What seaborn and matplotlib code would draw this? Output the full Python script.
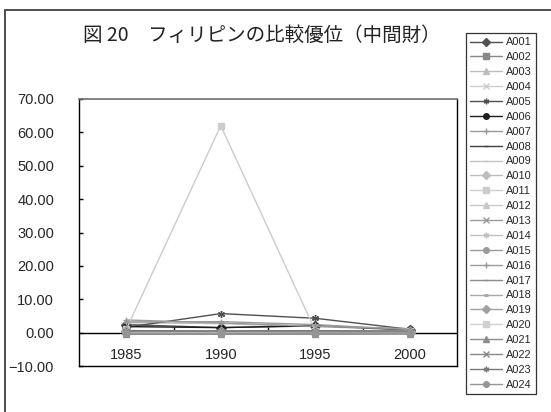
import matplotlib
matplotlib.use("Agg")
import matplotlib.pyplot as plt
from matplotlib.patches import Rectangle
import numpy as np
import pandas as pd
import seaborn as sns

# Survey years (categorical x axis)
years = ["1985", "1990", "1995", "2000"]

# Industry codes of the intermediate-goods series
codes = ["A001", "A002", "A003", "A004", "A005", "A006", "A007", "A008",
         "A009", "A010", "A011", "A012", "A013", "A014", "A015", "A016",
         "A017", "A018", "A019", "A020", "A021", "A022", "A023", "A024"]

# Revealed comparative advantage index per year, one value per code
rca_1985 = [2.4, 0.6, 3.0, 0.2, 1.6, 1.8, 3.8, 0.3,
            0.1, 0.4, 1.0, 0.3, 0.2, 0.5, 0.0, 3.2,
            -0.3, 0.2, 0.4, 0.1, -0.5, 0.3, 0.6, -0.2]
rca_1990 = [1.5, 0.5, 2.7, 0.2, 5.7, 1.5, 2.9, 0.2,
            0.1, 0.3, 62.0, 0.4, 0.3, 0.6, 0.1, 3.3,
            -0.3, 0.2, 0.3, 0.1, -0.5, 0.3, 0.5, -0.2]
rca_1995 = [2.0, 0.4, 1.8, 0.1, 4.3, 2.1, 1.9, 0.3,
            0.1, 0.3, 0.6, 0.3, 0.2, 0.5, 0.0, 2.4,
            -0.3, 0.2, 0.3, 0.1, -0.5, 0.2, 0.6, -0.2]
rca_2000 = [0.8, 0.4, 0.9, 0.1, 1.0, 0.9, 1.2, 0.3,
            0.1, 0.3, 0.5, 0.3, 0.2, 0.4, 0.0, 0.9,
            -0.2, 0.2, 0.3, 0.1, -0.4, 0.2, 0.5, -0.2]

# Line colour and marker for each code
colors = ["#505050", "#888888", "#bdbdbd", "#cccccc", "#505050", "#1e1e1e",
          "#9a9a9a", "#404040", "#c2c2c2", "#bdbdbd", "#cccccc", "#c8c8c8",
          "#9a9a9a", "#c0c0c0", "#9a9a9a", "#9a9a9a", "#8c8c8c", "#a8a8a8",
          "#a0a0a0", "#d0d0d0", "#8c8c8c", "#888888", "#7a7a7a", "#959595"]
markers = ["D", "s", "^", "x", (6, 2, 0), "o", "+", "_",
           "_", "D", "s", "^", "x", (6, 2, 0), "o", "+",
           "_", "_", "D", "s", "^", "x", (6, 2, 0), "o"]

df = pd.DataFrame({
    "code": np.repeat(codes, len(years)),
    "year": years * len(codes),
    "rca": np.column_stack([rca_1985, rca_1990, rca_1995, rca_2000]).ravel(),
})
df["pos"] = df["year"].map({y: i for i, y in enumerate(years)})

sns.set_theme(style="white")
plt.rcParams["font.family"] = ["Liberation Sans", "Noto Sans CJK JP", "DejaVu Sans"]

fig = plt.figure(figsize=(5.51, 4.12), dpi=100)
ax = fig.add_axes([79 / 551, 1 - 366 / 412, 378 / 551, 267 / 412])

for code, col, mk in zip(codes, colors, markers):
    sub = df[df["code"] == code]
    thick = code == "A018"
    sns.lineplot(data=sub, x="pos", y="rca", ax=ax, color=col, marker=mk,
                 markersize=5 if mk != "_" else 4,
                 markeredgecolor=col, markerfacecolor=col,
                 markeredgewidth=2.2 if thick else 1.0,
                 linewidth=1.0, label=code, zorder=3)

ax.set_xlim(-0.5, 3.5)
ax.set_ylim(-10, 70)
ax.set_yticks(np.arange(-10, 71, 10))
ax.set_yticklabels([f"{v:.2f}".replace("-", "\u2212") for v in np.arange(-10, 71, 10)],
                   fontsize=10.5)
ax.tick_params(axis="y", direction="in", length=3, width=1, color="black",
               pad=18, left=True)
ax.set_xticks(range(len(years)), labels=years, fontsize=10.5)
ax.tick_params(axis="x", length=0, pad=-13)
ax.set_xlabel("")
ax.set_ylabel("")
ax.grid(False)

for side in ["left", "bottom", "right"]:
    ax.spines[side].set_color("black")
    ax.spines[side].set_linewidth(1.0)
ax.spines["top"].set_color("#707070")
ax.spines["top"].set_linewidth(1.2)

# Category axis drawn at zero, with boundary ticks between years
ax.axhline(0, color="black", linewidth=1.0, zorder=2)
ax.vlines([0.5, 1.5, 2.5], 0, 1.6, color="black", linewidth=1.0, zorder=2)

leg = ax.legend(loc="upper left", bbox_to_anchor=(466 / 551, 1 - 33 / 412),
                bbox_transform=fig.transFigure, fontsize=7.9, frameon=True,
                fancybox=False, edgecolor="black", handlelength=2.9,
                handletextpad=0.3, labelspacing=0.445, borderpad=0.4,
                borderaxespad=0, markerscale=0.8)
leg.get_frame().set_linewidth(0.9)

fig.text(0.475, 1 - 35 / 412, "図 20　フィリピンの比較優位（中間財）",
         ha="center", va="center", fontsize=14,
         family=["Noto Sans CJK JP", "DejaVu Sans"], color="#222222")

# Outer chart frame
fig.add_artist(Rectangle((4.5 / 551, -0.1), 1.2, 1 - 10 / 412 + 0.1,
                         transform=fig.transFigure, fill=False,
                         edgecolor="#404040", linewidth=1.3))

fig.savefig("out.png", dpi=100)
